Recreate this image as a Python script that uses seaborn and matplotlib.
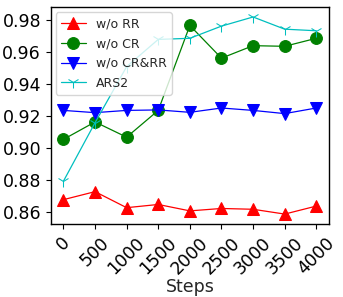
import numpy as np
import pandas as pd
import matplotlib
matplotlib.use("Agg")
import matplotlib.pyplot as plt
import seaborn as sns

# Values
steps = [0, 500, 1000, 1500, 2000, 2500, 3000, 3500, 4000]
wo_rr = [0.868, 0.873, 0.863, 0.865, 0.861, 0.8625, 0.862, 0.859, 0.864]
wo_cr = [0.9056, 0.9165, 0.907, 0.9237, 0.9767, 0.9563, 0.9641, 0.9637, 0.9687]
wo_cr_rr = [0.9237, 0.9223, 0.9237, 0.924, 0.9225, 0.9252, 0.9237, 0.9217, 0.9252]
ars2 = [0.8795, 0.916, 0.951, 0.968, 0.9687, 0.9763, 0.982, 0.9744, 0.9734]

sns.set_style("ticks")
plt.rcParams["font.family"] = ["DejaVu Sans"]

fig, ax = plt.subplots(figsize=(3.43, 2.97), dpi=100)
fig.subplots_adjust(left=0.148, right=0.959, top=0.976, bottom=0.246)

series = [
    ("w/o RR", wo_rr, "red", "^", 8.5),
    ("w/o CR", wo_cr, "green", "o", 8.5),
    ("w/o CR&RR", wo_cr_rr, "blue", "v", 8.5),
    ("ARS2", ars2, "c", "1", 8.5),
]
for name, vals, col, mk, ms in series:
    sns.lineplot(x=steps, y=vals, ax=ax, color=col, marker=mk, markersize=ms,
                 linewidth=0.9, label=name, markeredgecolor=col)

ax.set_xticks(steps)
ax.set_xticklabels([str(s) for s in steps], rotation=45, fontsize=12.5)
ax.set_yticks([0.86, 0.88, 0.90, 0.92, 0.94, 0.96, 0.98])
ax.set_yticklabels(["0.86", "0.88", "0.90", "0.92", "0.94", "0.96", "0.98"], fontsize=12.5)
ax.set_xlabel("Steps", fontsize=12.5, labelpad=0)
ax.set_ylabel("")
ax.margins(x=0.05, y=0.05)
for s in ax.spines.values():
    s.set_color("black")
    s.set_linewidth(1.0)
ax.tick_params(colors="black", length=3.5)
leg = ax.legend(loc="upper left", fontsize=9, frameon=True, handlelength=2,
                borderaxespad=0.4, labelspacing=0.55)
leg.get_frame().set_edgecolor("#cccccc")

fig.savefig("out.png", dpi=100)
